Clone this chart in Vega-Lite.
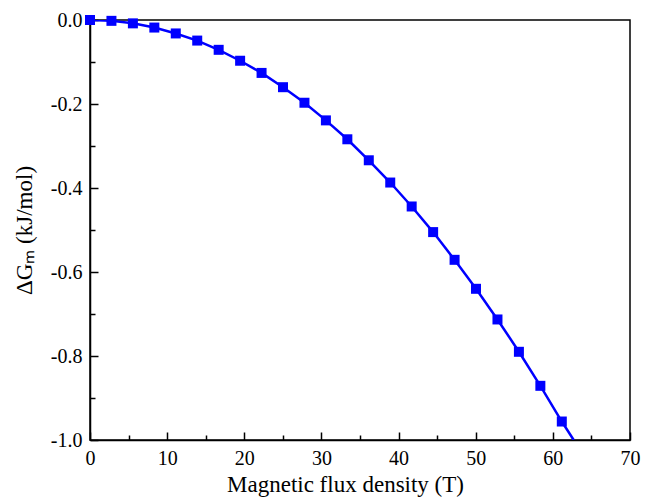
{
  "$schema": "https://vega.github.io/schema/vega-lite/v6.json",
  "width": 540,
  "height": 420,
  "autosize": "none",
  "padding": {"left": 90, "top": 20, "right": 16, "bottom": 62},
  "background": "white",
  "config": {"view": {"stroke": "black", "strokeWidth": 1.5}, "font": "Liberation Serif"},
  "data": {"values": [
    {"B": 0, "dG": 0, "marker": true},
    {"B": 2.78, "dG": -0.002, "marker": true},
    {"B": 5.56, "dG": -0.008, "marker": true},
    {"B": 8.34, "dG": -0.018, "marker": true},
    {"B": 11.12, "dG": -0.032, "marker": true},
    {"B": 13.9, "dG": -0.049, "marker": true},
    {"B": 16.68, "dG": -0.071, "marker": true},
    {"B": 19.46, "dG": -0.097, "marker": true},
    {"B": 22.24, "dG": -0.126, "marker": true},
    {"B": 25.02, "dG": -0.160, "marker": true},
    {"B": 27.8, "dG": -0.197, "marker": true},
    {"B": 30.58, "dG": -0.239, "marker": true},
    {"B": 33.36, "dG": -0.284, "marker": true},
    {"B": 36.14, "dG": -0.334, "marker": true},
    {"B": 38.92, "dG": -0.387, "marker": true},
    {"B": 41.7, "dG": -0.444, "marker": true},
    {"B": 44.48, "dG": -0.505, "marker": true},
    {"B": 47.26, "dG": -0.571, "marker": true},
    {"B": 50.04, "dG": -0.640, "marker": true},
    {"B": 52.82, "dG": -0.713, "marker": true},
    {"B": 55.6, "dG": -0.790, "marker": true},
    {"B": 58.38, "dG": -0.871, "marker": true},
    {"B": 61.16, "dG": -0.956, "marker": true},
    {"B": 62.7, "dG": -1.0, "marker": false}
  ]},
  "layer": [
    {
      "mark": {"type": "line", "color": "#0000ff", "strokeWidth": 2.5, "clip": true},
      "encoding": {
        "x": {"field": "B", "type": "quantitative", "scale": {"domain": [0, 70], "nice": false},
          "axis": {"orient": "bottom", "values": [0, 10, 20, 30, 40, 50, 60, 70], "tickSize": -8, "tickColor": "black", "tickWidth": 1.5,
            "domainColor": "black", "domainWidth": 1.5, "grid": false, "labelFlush": false,
            "labelFont": "Liberation Serif", "labelFontSize": 20, "labelColor": "black", "labelPadding": 16,
            "title": "Magnetic flux density (T)", "titleFont": "Liberation Serif", "titleFontSize": 23, "titleFontWeight": "normal", "titleColor": "black", "titleX": 255, "titlePadding": 5}},
        "y": {"field": "dG", "type": "quantitative", "scale": {"domain": [-1, 0], "nice": false},
          "axis": {"orient": "left", "values": [0, -0.2, -0.4, -0.6, -0.8, -1.0], "format": ".1f", "labelExpr": "replace(datum.label, '\u2212', '-')", "tickSize": -8, "tickColor": "black", "tickWidth": 1.5,
            "domainColor": "black", "domainWidth": 1.5, "grid": false, "labelFlush": false,
            "labelFont": "Liberation Serif", "labelFontSize": 20, "labelColor": "black", "labelPadding": 16,
            "title": "ΔGₘ (kJ/mol)", "titleFont": "Liberation Serif", "titleFontSize": 23, "titleFontWeight": "normal", "titleColor": "black", "titlePadding": 14}}
      }
    },
    {
      "transform": [{"filter": "datum.marker"}],
      "mark": {"type": "square", "color": "#0000ff", "size": 100, "opacity": 1},
      "encoding": {
        "x": {"field": "B", "type": "quantitative", "scale": {"domain": [0, 70], "nice": false},
          "axis": {"orient": "bottom", "values": [5, 15, 25, 35, 45, 55, 65], "tickSize": -5, "tickColor": "black", "tickWidth": 1.5,
            "domain": false, "grid": false, "labels": false, "title": null}},
        "y": {"field": "dG", "type": "quantitative", "scale": {"domain": [-1, 0], "nice": false},
          "axis": {"orient": "left", "values": [-0.1, -0.3, -0.5, -0.7, -0.9], "tickSize": -5, "tickColor": "black", "tickWidth": 1.5,
            "domain": false, "grid": false, "labels": false, "title": null}}
      }
    }
  ],
  "resolve": {"axis": {"x": "independent", "y": "independent"}}
}
